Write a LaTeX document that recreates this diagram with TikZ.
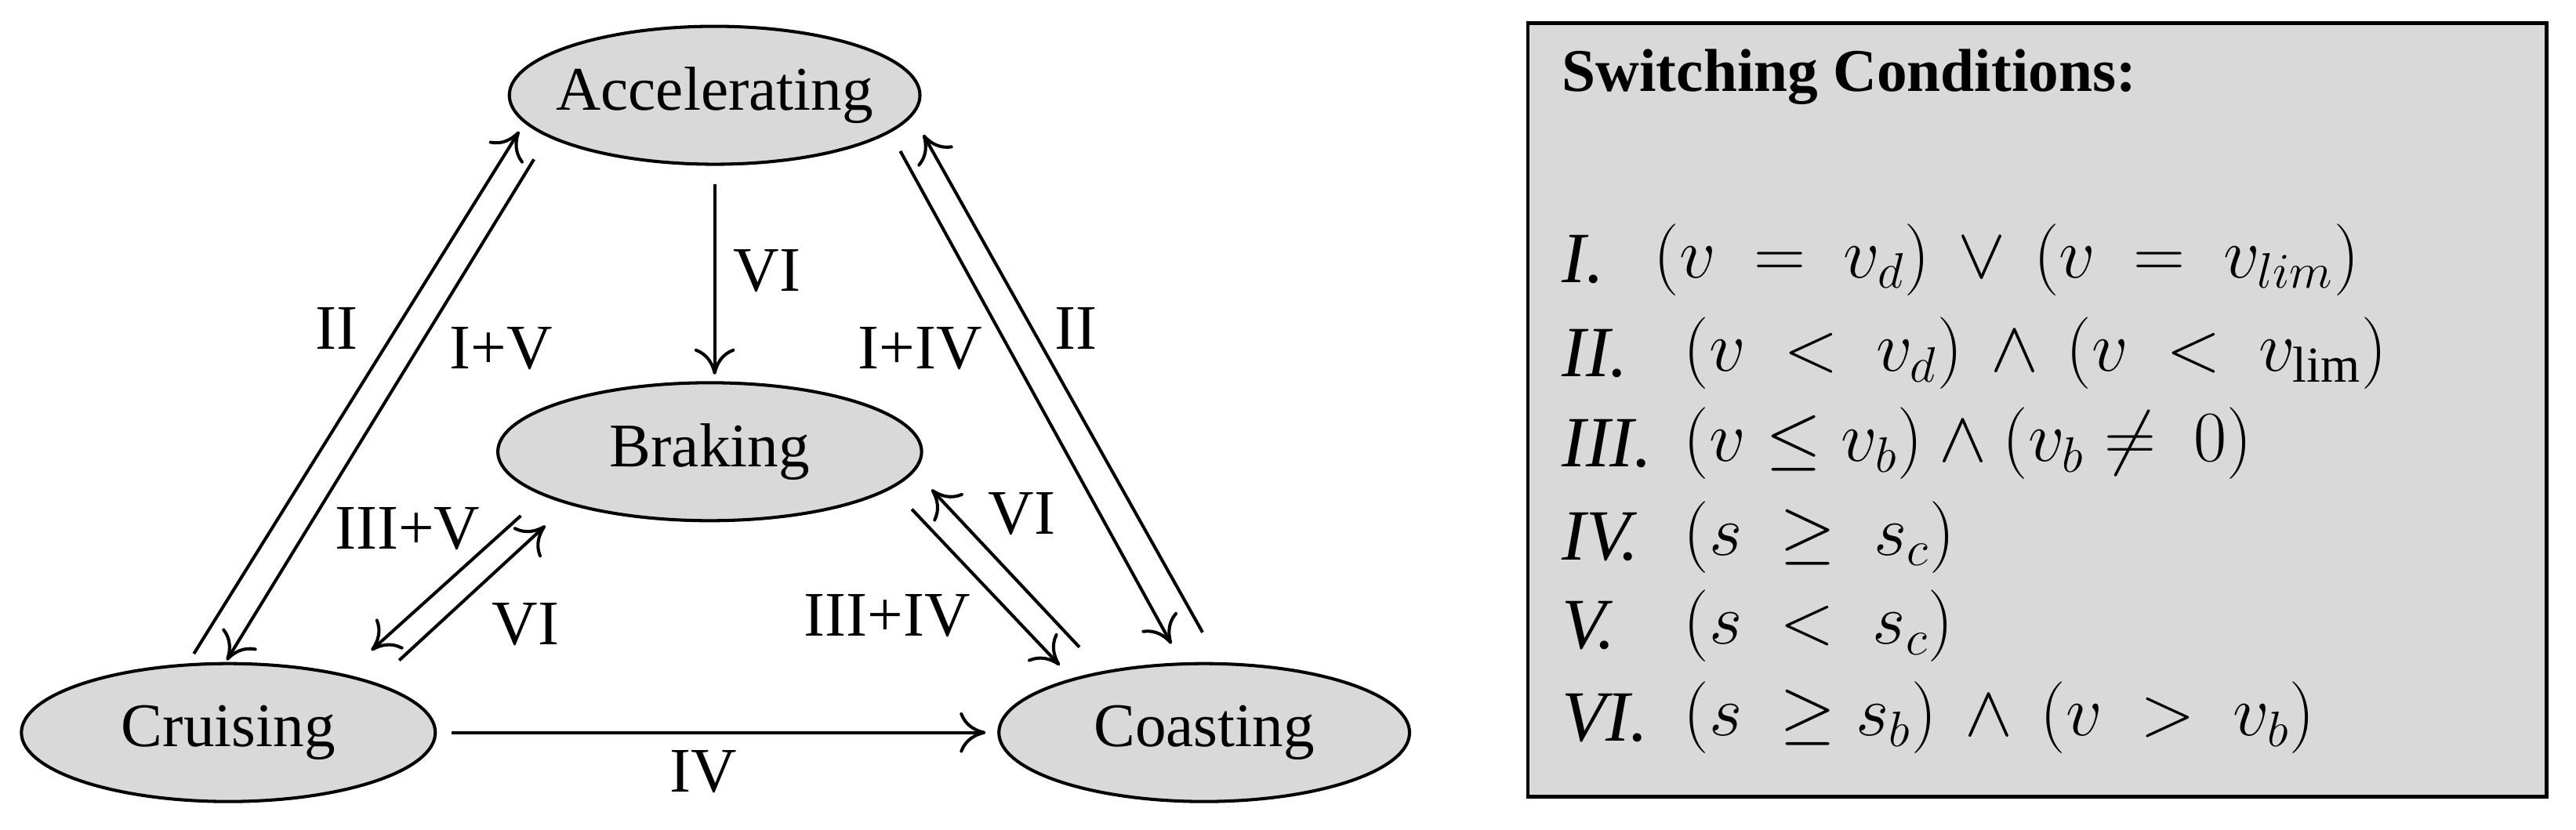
\documentclass[tikz,border=0pt]{standalone}
\usepackage{fontspec}
\setmainfont{Liberation Serif}
\usetikzlibrary{shapes.geometric,arrows.meta}

\begin{document}
\begin{tikzpicture}[x=0.02cm,y=-0.02cm,>={To[length=9pt,width=14pt]},line width=1.1pt,
    mode/.style={ellipse,draw,fill=gray!30,line width=1.1pt,inner xsep=-6pt,inner ysep=0pt,
      minimum width=5cm,minimum height=1.68cm,font=\fontsize{21.5}{26}\selectfont},
    lbl/.style={font=\fontsize{22}{26}\selectfont},
    cond/.style={anchor=west,font=\fontsize{25}{29}\selectfont}]
  \useasboundingbox (0,0) rectangle (1568,505);
  % modes
  \node[mode] (acc) at (435,58) {Accelerating};
  \node[mode,minimum width=5.16cm] (brk) at (432,275) {Braking};
  \node[mode,minimum width=5.04cm] (cru) at (139,446) {Cruising};
  \node[mode] (coa) at (733,446) {Coasting};
  % connector ends
  \coordinate (cru1) at (118,398); \coordinate (acc1) at (316,80);
  \coordinate (acc2) at (325,97); \coordinate (cru2) at (138,402);
  \coordinate (acc3) at (435,112); \coordinate (brk3) at (435,228);
  \coordinate (acc4) at (548,92); \coordinate (coa4) at (713,392);
  \coordinate (coa5) at (732,385); \coordinate (acc5) at (562,82);
  \coordinate (brk6) at (317,314); \coordinate (cru6) at (226,396);
  \coordinate (cru7) at (243,402); \coordinate (brk7) at (332,320);
  \coordinate (brk8) at (555,310); \coordinate (coa8) at (645,405);
  \coordinate (coa9) at (657,394); \coordinate (brk9) at (567,298);
  \coordinate (cru10) at (275,446); \coordinate (coa10) at (600,446);
  % transitions
  \draw[->] (cru1) -- (acc1);
  \draw[->] (acc2) -- (cru2);
  \draw[->] (acc3) -- (brk3);
  \draw[->] (acc4) -- (coa4);
  \draw[->] (coa5) -- (acc5);
  \draw[->] (brk6) -- (cru6);
  \draw[->] (cru7) -- (brk7);
  \draw[->] (brk8) -- (coa8);
  \draw[->] (coa9) -- (brk9);
  \draw[->] (cru10) -- (coa10);
  % labels
  \node[lbl] (l1) at (205,200) {II};
  \node[lbl] (l2) at (305,212) {I+V};
  \node[lbl] (l3) at (467,165) {VI};
  \node[lbl] (l4) at (560,212) {I+IV};
  \node[lbl] (l5) at (655,200) {II};
  \node[lbl] (l6) at (248,322) {III+V};
  \node[lbl] (l7) at (320,380) {VI};
  \node[lbl] (l8) at (622,313) {VI};
  \node[lbl] (l9) at (540,375) {III+IV};
  \node[lbl] (l10) at (428,470) {IV};
  % switching conditions
  \draw[fill=gray!30,line width=1.3pt] (930,14) rectangle (1550,485);
  \node[anchor=west,font=\fontsize{21}{25}\selectfont\bfseries] (ttl) at (944,47) {Switching Conditions:};
  \node[cond] (n1) at (944,158) {\textit{I.}};
  \node[cond] (n2) at (944,215) {\textit{II.}};
  \node[cond] (n3) at (944,270) {\textit{III.}};
  \node[cond] (n4) at (944,327) {\textit{IV.}};
  \node[cond] (n5) at (944,381) {\textit{V.}};
  \node[cond] (n6) at (944,437) {\textit{VI.}};
  \node[cond] (c1) at (1000,158) {$(v\ =\ v_d)\,\vee\,(v\ =\ v_{lim})$};
  \node[cond] (c2) at (1018,215) {$(v\ <\ v_d)\,\wedge\,(v\ <\ v_{\mathrm{lim}})$};
  \node[cond] (c3) at (1018,270) {$(v \le v_b) \wedge (v_b \ne\ 0)$};
  \node[cond] (c4) at (1018,327) {$(s\ \ge\ s_c)$};
  \node[cond] (c5) at (1018,381) {$(s\ <\ s_c)$};
  \node[cond] (c6) at (1018,437) {$(s\ \ge s_b)\,\wedge\,(v\ >\ v_b)$};
\end{tikzpicture}
\end{document}
